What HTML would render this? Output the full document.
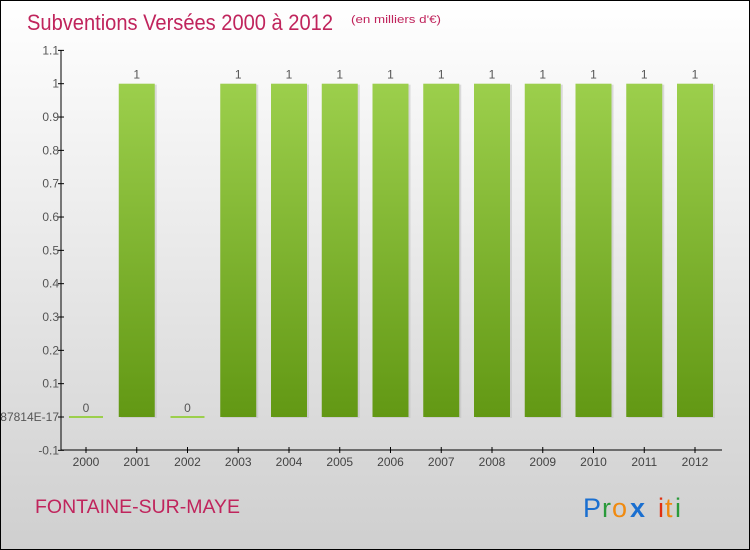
<!DOCTYPE html>
<html><head><meta charset="utf-8"><style>
body{margin:0}
#wrap{width:748px;height:548px;border:1px solid #000;position:relative;background:linear-gradient(#ffffff,#cfcfcf);overflow:hidden;font-family:"Liberation Sans",sans-serif}
</style></head><body>
<div id="wrap">
<svg width="748" height="548" viewBox="1 1 748 548" font-family="Liberation Sans, sans-serif">
<text x="27" y="30" font-size="22" fill="#c0245c" textLength="306" lengthAdjust="spacingAndGlyphs">Subventions Versées 2000 à 2012</text>
<text x="351" y="23" font-size="11" fill="#c0245c" textLength="90" lengthAdjust="spacingAndGlyphs">(en milliers d'€)</text>
<g id="yaxis"></g>
<g id="bars"></g>
<g id="xaxis"></g>
<text x="35" y="513" font-size="19" fill="#c0245c" textLength="205" lengthAdjust="spacingAndGlyphs">FONTAINE-SUR-MAYE</text>
<g font-size="27">
<text x="583" y="517" fill="#1a6fd0">P</text><text x="602" y="517" fill="#2a9a3a">r</text><text x="612" y="517" fill="#f08a10">o</text><text x="630" y="517" fill="#1a6fd0" font-weight="bold">x</text><text x="658" y="517" fill="#e03010">i</text><text x="665" y="517" fill="#f08a10">t</text><text x="675" y="517" fill="#2a9a3a">i</text>
</g>
</svg>
</div>
<script>
const categories=["2000","2001","2002","2003","2004","2005","2006","2007","2008","2009","2010","2011","2012"];
const values=[0,1,0,1,1,1,1,1,1,1,1,1,1];
const valueLabels=["0","1","0","1","1","1","1","1","1","1","1","1","1"];
const yTicks=[1.1,1,0.9,0.8,0.7,0.6,0.5,0.4,0.3,0.2,0.1,0,-0.1];
const yTickLabels=["1.1","1","0.9","0.8","0.7","0.6","0.5","0.4","0.3","0.2","0.1","-1.387814E-17","-0.1"];
const NS="http://www.w3.org/2000/svg";
function y(v){return 417-v*333.3;}
function x(i){return 86+i*50.75;}
function mk(t,a,p,txt){const e=document.createElementNS(NS,t);for(const k in a)e.setAttribute(k,a[k]);if(txt!==undefined)e.textContent=txt;p.appendChild(e);return e;}
const svg=document.querySelector('svg');
const defs=mk('defs',{},svg);
const g=mk('linearGradient',{id:'bg',x1:0,y1:0,x2:0,y2:1},defs);
mk('stop',{offset:'0','stop-color':'#9ccf4c'},g);mk('stop',{offset:'1','stop-color':'#629814'},g);
const ya=document.getElementById('yaxis'),xa=document.getElementById('xaxis'),bars=document.getElementById('bars');
let l=mk('line',{x1:61,y1:50,x2:61,y2:450,stroke:'#000'},ya);


yTicks.forEach((v,i)=>{
 const tk=mk('line',{x1:58,x2:64,y1:y(v),y2:y(v),stroke:'#000'},ya);
 
 
 const t=mk('text',{x:59,y:y(v)+4,'font-size':12,fill:'#555','text-anchor':'end'},ya,yTickLabels[i]);
 
 
});
l=mk('line',{x1:61,y1:450,x2:722,y2:450,stroke:'#000'},xa);


categories.forEach((c,i)=>{
 const tk=mk('line',{x1:x(i),x2:x(i),y1:447,y2:453,stroke:'#000'},xa);
 
 
 const t=mk('text',{x:x(i),y:466,'font-size':12,fill:'#444','text-anchor':'middle'},xa,c);
 
 
 const v=values[i];
 let b;
 if(v===0){b=mk('rect',{x:x(i)-17,y:y(0)-1,width:34,height:2,fill:'#9ccf4c'},bars);}
 else{mk('rect',{x:x(i)-16,y:y(v)+1,width:36,height:y(0)-y(v),fill:'#bbb',opacity:0.5},bars);
  b=mk('rect',{x:x(i)-18,y:y(v),width:36,height:y(0)-y(v),fill:'url(#bg)'},bars);}
 
 
 const vl=mk('text',{x:x(i),y:y(v)-5,'font-size':12,fill:'#555','text-anchor':'middle'},bars,valueLabels[i]);
 
 
});
</script>
</body></html>
